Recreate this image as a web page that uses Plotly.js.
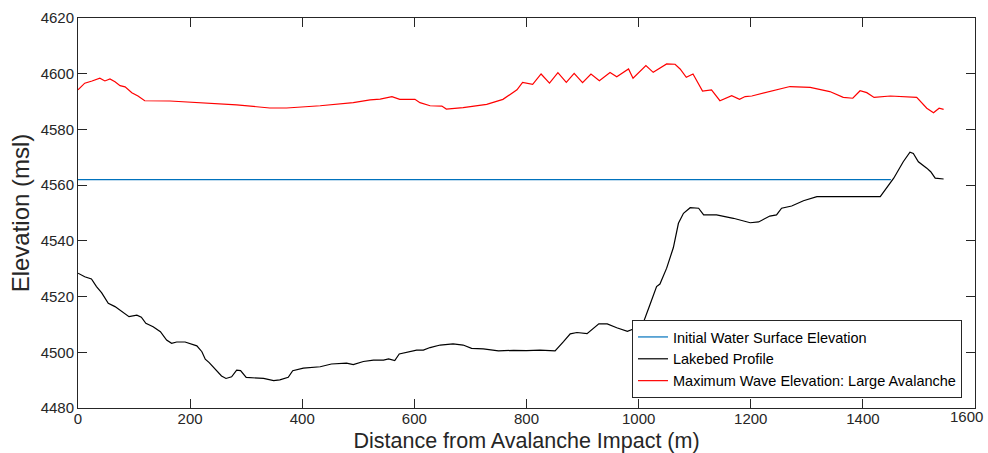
<!DOCTYPE html>
<html>
<head>
<meta charset="utf-8">
<script src="https://cdn.plot.ly/plotly-3.0.1.min.js"></script>
<style>html,body{margin:0;padding:0;background:#fff;}#chart{width:988px;height:453px;}</style>
</head>
<body>
<div id="chart"></div>
<script>
// Initial water surface
const waterX = [0, 1450];
const waterY = [4562, 4562];

// Lakebed profile
const bedX = [0,12,24,33,42,54,66,78,91,105,113,121,134,147,158,167,176,191,212,221,227,234,246,256,264,274,283,290,300,331,349,360,375,383,402,432,452,479,491,509,527,545,554,565,573,589,604,616,628,646,669,687,702,723,750,777,800,824,851,866,878,890,908,929,944,961,980,994,1009,1020,1032,1038,1050,1062,1071,1080,1092,1107,1116,1139,1169,1199,1214,1234,1246,1255,1273,1294,1318,1431,1440,1455,1472,1484,1490,1499,1514,1521,1529,1544];
const bedY = [4528.4,4527.1,4526.3,4523.6,4521.4,4517.6,4516.4,4514.6,4512.8,4513.3,4512.6,4510.4,4509.2,4507.4,4504.4,4503.2,4503.7,4503.7,4502.3,4500.2,4497.5,4496.3,4493.6,4491.5,4490.6,4491.2,4493.6,4493.4,4491,4490.6,4489.8,4490.1,4491,4493.4,4494.3,4494.8,4495.8,4496.1,4495.6,4496.7,4497.2,4497.2,4497.6,4497,4499.4,4500.1,4500.8,4500.8,4501.7,4502.6,4503,4502.6,4501.4,4501.2,4500.5,4500.7,4500.6,4500.8,4500.5,4503.8,4506.6,4507.1,4506.7,4510.2,4510.2,4508.8,4507.5,4508.6,4511,4517,4523.6,4524.5,4530.2,4537.6,4546.3,4549.9,4551.9,4551.7,4549.3,4549.3,4548.1,4546.5,4546.8,4548.9,4549.3,4551.7,4552.5,4554.4,4555.9,4555.9,4558.5,4562.5,4568.4,4571.8,4571.4,4568.4,4566.1,4564.8,4562.5,4562.2];

// Maximum wave elevation: large avalanche
const waveX = [0,12,25,39,48,57,66,75,84,96,107,119,164,223,283,342,372,432,491,521,539,560,574,601,610,628,649,657,687,729,758,783,793,811,826,841,856,871,885,900,915,930,949,961,982,990,1013,1026,1050,1065,1074,1085,1097,1114,1130,1145,1166,1180,1190,1202,1234,1270,1306,1341,1365,1382,1395,1407,1420,1449,1496,1514,1526,1536,1544];
const waveY = [4594.2,4596.6,4597.4,4598.4,4597.4,4598.1,4597.1,4595.7,4595.3,4593.2,4592,4590.3,4590.2,4589.6,4588.8,4587.7,4587.7,4588.5,4589.6,4590.6,4590.9,4591.8,4590.8,4590.8,4589.6,4588.5,4588.4,4587.3,4587.8,4589,4590.8,4594.2,4596.9,4596.2,4599.9,4596.6,4600.4,4596.9,4600.1,4596.8,4599.9,4597.5,4600.4,4598.9,4601.7,4598.4,4602.9,4600.5,4603.5,4603.4,4601.7,4598.7,4599.9,4593.8,4594.2,4590.3,4592.1,4590.8,4591.8,4592,4593.6,4595.4,4595.1,4593.6,4591.5,4591.2,4593.9,4593.2,4591.5,4592,4591.5,4587.6,4586,4587.6,4587.2];

const names = ["Initial Water Surface Elevation","Lakebed Profile","Maximum Wave Elevation: Large Avalanche"];
const xTicks = [0,200,400,600,800,1000,1200,1400,1600];
const yTicks = [4480,4500,4520,4540,4560,4580,4600,4620];
const lastXTick = xTicks[xTicks.length - 1];

const FONT = 'Liberation Sans, Arial, Helvetica, sans-serif';

const traces = [
  {x: waterX, y: waterY, name: names[0], mode: 'lines', line: {color: '#0072BD', width: 1.2}},
  {x: bedX, y: bedY, name: names[1], mode: 'lines', line: {color: '#000000', width: 1.2}},
  {x: waveX, y: waveY, name: names[2], mode: 'lines', line: {color: '#FF0000', width: 1.2}}
];

const tickFont = {family: FONT, size: 15, color: '#262626'};
const axisCommon = {
  showgrid: false, zeroline: false, showline: true, linecolor: '#262626', linewidth: 1,
  mirror: 'ticks', ticks: 'inside', ticklen: 9, tickcolor: '#262626', tickwidth: 1,
  tickfont: tickFont
};

const layout = {
  width: 988, height: 453,
  margin: {l: 78, r: 13, t: 18, b: 45},
  paper_bgcolor: '#fff', plot_bgcolor: '#fff',
  showlegend: true,
  legend: {
    x: 0.9855, y: 0.0256, xanchor: 'right', yanchor: 'bottom',
    bgcolor: '#fff', bordercolor: '#262626', borderwidth: 1,
    font: {family: FONT, size: 14.5, color: '#000'},
    itemwidth: 30, tracegroupgap: 0
  },
  xaxis: Object.assign({}, axisCommon, {
    range: [0, 1600], tickvals: xTicks, ticklabelstandoff: -3,
    ticktext: xTicks.map(v => v === lastXTick ? '' : String(v)),
    title: {text: 'Distance from Avalanche Impact (m)', standoff: 8,
      font: {family: FONT, size: 21.5, color: '#262626'}}
  }),
  yaxis: Object.assign({}, axisCommon, {
    range: [4480, 4620], tickvals: yTicks, ticktext: yTicks.map(String),
    title: {text: 'Elevation (msl)', standoff: 4,
      font: {family: FONT, size: 24, color: '#262626'}}
  }),
  // last x tick label, nudged left so it stays inside the page
  annotations: [{
    x: lastXTick, xref: 'x', y: 0, yref: 'paper', yanchor: 'top', xanchor: 'center',
    xshift: -9, yshift: 2, showarrow: false, text: String(lastXTick), font: tickFont
  }]
};

Plotly.newPlot('chart', traces, layout, {displayModeBar: false, staticPlot: true});
</script>
</body>
</html>
